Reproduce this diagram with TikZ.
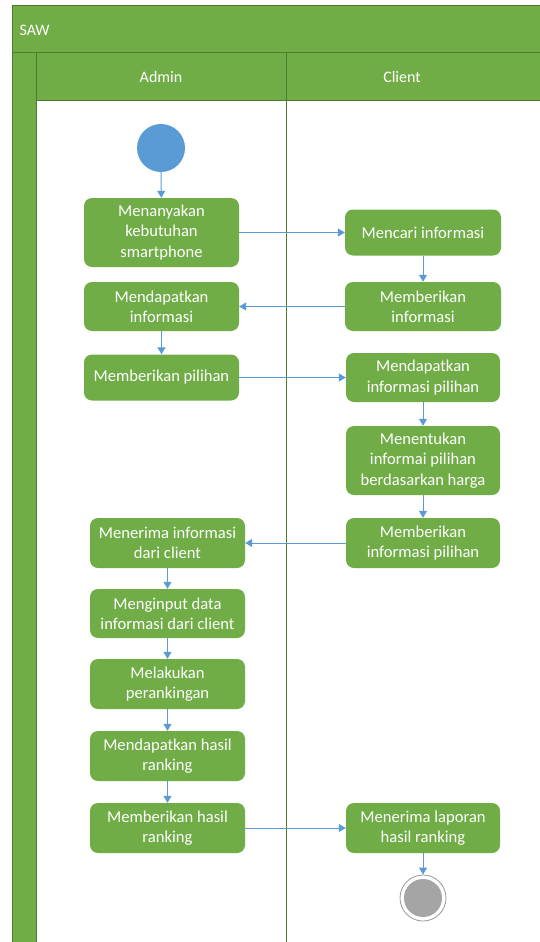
\documentclass[tikz,border=0pt]{standalone}
\usepackage{fontspec}
\setmainfont{Carlito}
\usetikzlibrary{arrows.meta}
\definecolor{gfill}{HTML}{70AD47}
\definecolor{gline}{HTML}{4E7A2F}
\definecolor{ablue}{HTML}{5B9BD5}
\definecolor{egray}{HTML}{A5A5A5}
\definecolor{ering}{HTML}{9A9A9A}
\tikzset{
  act/.style={fill=gfill, draw=none, rounded corners=8pt, text=white, align=center,
    inner sep=0pt, font=\fontsize{16.6}{20.3}\selectfont},
  arr/.style={draw=ablue, line width=1pt, -{Triangle[length=7pt,width=8pt]}},
  lane/.style={draw=gline, line width=1pt},
  hdr/.style={text=white, font=\fontsize{16}{20}\selectfont}
}
\begin{document}
\begin{tikzpicture}[x=1pt,y=-1pt]
\useasboundingbox (0,0) rectangle (539,942);
% swimlane frame
\fill[gfill] (12,6) rectangle (545,100);
\fill[gfill] (12,100) rectangle (36,950);
\draw[lane] (545,6) -- (12,6) -- (12,950);
\draw[lane] (12,53) -- (545,53);
\draw[lane] (36,100) -- (545,100);
\draw[lane] (36,53) -- (36,950);
\draw[lane] (286,53) -- (286,950);
\node[hdr, anchor=west] (title) at (16,30) {SAW};
\node[hdr] (hadmin) at (161,77) {Admin};
\node[hdr] (hclient) at (402,77) {Client};
% start
\node[circle, fill=ablue, minimum size=48pt, inner sep=0pt] (start) at (161,148) {};
% activities
\node[act, minimum width=155pt, minimum height=69pt] (b1) at (161.5,232.5) {Menanyakan\\kebutuhan\\smartphone};
\node[act, minimum width=156pt, minimum height=46pt] (c1) at (423,232.5) {Mencari informasi};
\node[act, minimum width=156pt, minimum height=49pt] (c2) at (423,306.5) {Memberikan\\informasi};
\node[act, minimum width=155pt, minimum height=49pt] (b2) at (161.5,306.5) {Mendapatkan\\informasi};
\node[act, minimum width=155pt, minimum height=46pt] (b3) at (161.5,377.5) {Memberikan pilihan};
\node[act, minimum width=154pt, minimum height=49pt] (c3) at (423,377.5) {Mendapatkan\\informasi pilihan};
\node[act, minimum width=154pt, minimum height=69pt] (c4) at (423,460.5) {Menentukan\\informai pilihan\\berdasarkan harga};
\node[act, minimum width=154pt, minimum height=50pt] (c5) at (423,543) {Memberikan\\informasi pilihan};
\node[act, minimum width=155pt, minimum height=50pt] (b4) at (167.5,543) {Menerima informasi\\dari client};
\node[act, minimum width=155pt, minimum height=49pt] (b5) at (167.5,613.5) {Menginput data\\informasi dari client};
\node[act, minimum width=155pt, minimum height=50pt] (b6) at (167.5,684) {Melakukan\\perankingan};
\node[act, minimum width=155pt, minimum height=50pt] (b7) at (167.5,756) {Mendapatkan hasil\\ranking};
\node[act, minimum width=155pt, minimum height=50pt] (b8) at (167.5,828) {Memberikan hasil\\ranking};
\node[act, minimum width=154pt, minimum height=50pt] (c6) at (423,828) {Menerima laporan\\hasil ranking};
% end
\node[circle, draw=ering, line width=0.8pt, fill=white, minimum size=46pt, inner sep=0pt] (endo) at (423,898) {};
\node[circle, fill=egray, minimum size=38pt, inner sep=0pt] (endi) at (423,898) {};
% connectors
\draw[arr] (start) -- (b1);
\draw[arr] (b1) -- (c1);
\draw[arr] (c1) -- (c2);
\draw[arr] (c2) -- (b2);
\draw[arr] (b2) -- (b3);
\draw[arr] (b3) -- (c3);
\draw[arr] (c3) -- (c4);
\draw[arr] (c4) -- (c5);
\draw[arr] (c5) -- (b4);
\draw[arr] (b4) -- (b5);
\draw[arr] (b5) -- (b6);
\draw[arr] (b6) -- (b7);
\draw[arr] (b7) -- (b8);
\draw[arr] (b8) -- (c6);
\draw[arr] (c6) -- (endo);
\end{tikzpicture}
\end{document}
